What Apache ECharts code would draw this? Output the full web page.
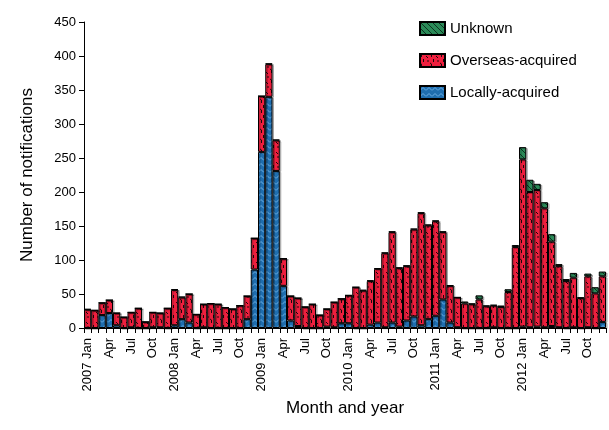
<!DOCTYPE html>
<html>
<head>
<meta charset="utf-8">
<script src="https://cdn.jsdelivr.net/npm/echarts@6/dist/echarts.min.js"></script>
<style>
  html, body { margin: 0; padding: 0; background: #fff; }
  #main { width: 609px; height: 430px; }
</style>
</head>
<body>
<div id="main"></div>
<script>
var years = ['2007', '2008', '2009', '2010', '2011', '2012'];
var monthNames = ['Jan', 'Feb', 'Mar', 'Apr', 'May', 'Jun', 'Jul', 'Aug', 'Sep', 'Oct', 'Nov', 'Dec'];
var yTicks = [0, 50, 100, 150, 200, 250, 300, 350, 400, 450];

// monthly notifications, Jan 2007 - Dec 2012
var locallyAcquired = [
  0, 0, 19, 22, 4, 0, 1, 0, 0, 1, 1, 0,
  4, 13, 8, 0, 1, 0, 0, 0, 0, 0, 13, 86,
  259, 340, 231, 62, 11, 3, 0, 0, 0, 2, 1, 7,
  7, 0, 0, 5, 8, 1, 8, 2, 11, 17, 4, 13,
  18, 42, 8, 1, 0, 0, 0, 0, 1, 0, 0, 0,
  2, 1, 2, 1, 3, 1, 0, 1, 0, 1, 0, 9
];
var overseasAcquired = [
  27, 26, 18, 19, 18, 16, 22, 29, 9, 22, 21, 29,
  52, 32, 42, 20, 34, 36, 35, 30, 28, 33, 34, 46,
  82, 48, 45, 40, 36, 41, 31, 35, 19, 26, 37, 36,
  41, 60, 55, 64, 79, 109, 133, 86, 80, 128, 165, 138,
  139, 99, 54, 44, 36, 35, 42, 32, 32, 31, 53, 119,
  246, 199, 201, 175, 124, 90, 69, 73, 44, 75, 51, 67
];
var unknown = [
  1, 0, 0, 0, 0, 0, 0, 0, 0, 0, 0, 0,
  1, 1, 0, 0, 0, 0, 0, 0, 0, 0, 0, 0,
  0, 1, 1, 0, 0, 0, 0, 0, 0, 0, 0, 0,
  0, 0, 1, 1, 1, 1, 1, 1, 1, 1, 1, 1,
  1, 1, 1, 0, 3, 1, 6, 1, 1, 2, 4, 3,
  18, 18, 9, 9, 11, 3, 3, 7, 1, 4, 9, 7
];

var categories = [];
years.forEach(function (y) {
  monthNames.forEach(function (m) {
    categories.push(y + ' ' + m);
  });
});

// fill patterns like the excel chart
function makePattern(w, h, bg, draw) {
  var c = document.createElement('canvas');
  c.width = w;
  c.height = h;
  var ctx = c.getContext('2d');
  ctx.fillStyle = bg;
  ctx.fillRect(0, 0, w, h);
  draw(ctx);
  return { image: c, repeat: 'repeat' };
}

var bluePattern = makePattern(6, 6, '#1f6eaf', function (ctx) {
  ctx.strokeStyle = '#6fb0e4';
  ctx.lineWidth = 1;
  ctx.beginPath();
  ctx.moveTo(0, 4.5);
  ctx.lineTo(3, 1.5);
  ctx.lineTo(6, 4.5);
  ctx.stroke();
});

var redPattern = makePattern(10, 10, '#ee1f3e', function (ctx) {
  ctx.strokeStyle = '#1a0a0a';
  ctx.lineWidth = 1;
  ctx.beginPath();
  ctx.moveTo(1.5, 0); ctx.lineTo(1.5, 3);
  ctx.moveTo(6, 2); ctx.lineTo(8, 4);
  ctx.moveTo(3.5, 5); ctx.lineTo(3.5, 8);
  ctx.moveTo(7, 7); ctx.lineTo(9, 7);
  ctx.moveTo(0, 9); ctx.lineTo(1.5, 10);
  ctx.stroke();
});

var greenPattern = makePattern(6, 6, '#2b8a58', function (ctx) {
  ctx.strokeStyle = '#0d3320';
  ctx.lineWidth = 1;
  ctx.beginPath();
  ctx.moveTo(-1, -1); ctx.lineTo(7, 7);
  ctx.moveTo(-4, 2); ctx.lineTo(0, 6);
  ctx.moveTo(2, -4); ctx.lineTo(10, 4);
  ctx.stroke();
});

var barStyle = function (color) {
  return {
    color: color,
    borderColor: '#000',
    borderWidth: 1,
    shadowColor: 'rgba(0,0,0,0.25)',
    shadowOffsetX: 1.5,
    shadowOffsetY: 1
  };
};

var chart = echarts.init(document.getElementById('main'), null, { renderer: 'canvas' });

var option = {
  animation: false,
  textStyle: { fontFamily: 'Liberation Sans, Arial, sans-serif', color: '#000' },
  legend: {
    orient: 'vertical',
    left: 414,
    top: 16,
    itemWidth: 25,
    itemHeight: 13,
    itemGap: 17,
    icon: 'rect',
    textStyle: { fontSize: 15, color: '#000' },
    data: ['Unknown', 'Overseas-acquired', 'Locally-acquired']
  },
  grid: {
    left: 84,
    right: 3,
    top: 22,
    bottom: 102
  },
  xAxis: {
    type: 'category',
    data: categories,
    name: 'Month and year',
    nameLocation: 'middle',
    nameGap: 71,
    nameTextStyle: { fontSize: 17, color: '#000' },
    axisLine: { lineStyle: { color: '#000', width: 1 } },
    axisTick: { show: true, interval: 0, length: 5, lineStyle: { color: '#000' } },
    axisLabel: {
      interval: 0,
      rotate: 90,
      fontSize: 13,
      color: '#000',
      margin: 10,
      formatter: function (value, idx) {
        var parts = value.split(' ');
        var m = monthNames.indexOf(parts[1]);
        if (m === 0) return parts[0] + ' Jan';
        if (m % 3 === 0) return parts[1];
        return '';
      }
    }
  },
  yAxis: {
    type: 'value',
    min: yTicks[0],
    max: yTicks[yTicks.length - 1],
    interval: 50,
    name: 'Number of notifications',
    nameLocation: 'middle',
    nameGap: 48,
    nameTextStyle: { fontSize: 17, color: '#000' },
    axisLine: { show: true, lineStyle: { color: '#000', width: 1 } },
    axisTick: { show: true, length: 5, lineStyle: { color: '#000' } },
    axisLabel: { fontSize: 13, color: '#000', margin: 8 },
    splitLine: { show: false }
  },
  series: [
    {
      name: 'Locally-acquired',
      type: 'bar',
      stack: 'total',
      barCategoryGap: '0%',
      itemStyle: barStyle(bluePattern),
      data: locallyAcquired
    },
    {
      name: 'Overseas-acquired',
      type: 'bar',
      stack: 'total',
      barCategoryGap: '0%',
      itemStyle: barStyle(redPattern),
      data: overseasAcquired
    },
    {
      name: 'Unknown',
      type: 'bar',
      stack: 'total',
      barCategoryGap: '0%',
      itemStyle: barStyle(greenPattern),
      data: unknown
    }
  ]
};

chart.setOption(option);
</script>
</body>
</html>
